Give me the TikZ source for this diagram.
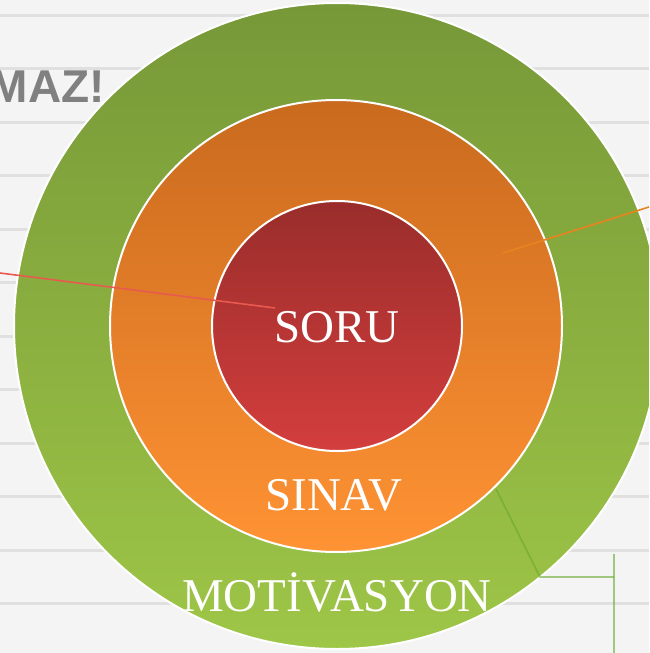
\documentclass[tikz,border=0pt]{standalone}
\usepackage{fontspec}
\setmainfont{Liberation Serif}
\newfontfamily\arialfont{Liberation Sans}
\definecolor{bg}{HTML}{F4F4F4}
\definecolor{stripe}{HTML}{E0E0E0}
\definecolor{gtop}{HTML}{779838}
\definecolor{gbot}{HTML}{9EC647}
\definecolor{otop}{HTML}{C96A1E}
\definecolor{obot}{HTML}{FF9334}
\definecolor{rtop}{HTML}{992D2B}
\definecolor{rbot}{HTML}{D33E3D}
\definecolor{redline}{HTML}{E85A50}
\definecolor{orangeline}{HTML}{E8831F}
\definecolor{greenline}{HTML}{6AA830}
\definecolor{titlegray}{HTML}{808080}
\tikzset{
  ring/.style={circle, draw=white, line width=2pt, inner sep=0pt},
  label/.style={text=white, font=\fontsize{47}{52}\selectfont, inner sep=0pt},
  leader/.style={line width=1.6pt},
}
\begin{document}
\begin{tikzpicture}[x=1pt,y=-1pt]
\fill[bg] (0,0) rectangle (649,653);
\useasboundingbox (0,0) rectangle (649,653);
\foreach \k in {0,...,11}{
  \fill[stripe] (0,{15+53.5*\k-1.5}) rectangle (649,{15+53.5*\k+1.5});
}
\begin{scope}
\clip (0,0) rectangle (649,653);
\node[anchor=base east, text=titlegray, font=\arialfont\bfseries\fontsize{46}{50}\selectfont, inner sep=0pt] (title) at (105,102) {MAZ!};
\node[ring, minimum size=646pt, top color=gtop, bottom color=gbot] (green) at (337,326) {};
\node[ring, minimum size=452pt, top color=otop, bottom color=obot] (orange) at (336,326) {};
\node[ring, minimum size=250pt, top color=rtop, bottom color=rbot] (red) at (337,326) {};
\node[label] (soru) at (337,327) {SORU};
\node[label] (sinav) at (334,495) {SINAV};
\node[label] (motiv) at (337,592) {MOTİVASYON};
\coordinate (r1) at (0,273);
\coordinate (r2) at (275,308);
\coordinate (o1) at (503,253);
\coordinate (o2) at (649,207);
\coordinate (g1) at (496,489);
\coordinate (g2) at (540,577);
\coordinate (g3) at (614,577);
\coordinate (v1) at (614,554);
\coordinate (v2) at (614,653);
\draw[leader, redline] (r1) -- (r2);
\draw[leader, orangeline] (o1) -- (o2);
\draw[leader, greenline, opacity=0.6] (g1) -- (g2) -- (g3);
\draw[leader, greenline, opacity=0.6] (v1) -- (v2);
\end{scope}
\end{tikzpicture}
\end{document}
